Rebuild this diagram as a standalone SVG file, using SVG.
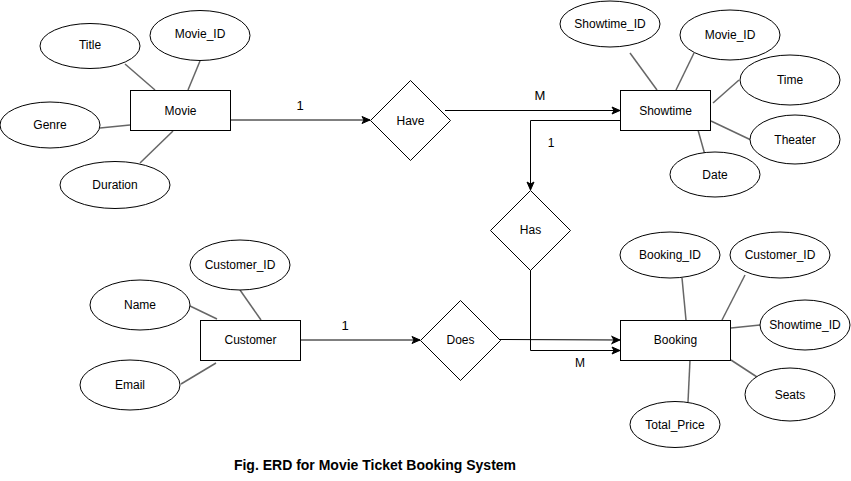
<svg xmlns="http://www.w3.org/2000/svg" width="851" height="481" viewBox="0 0 851 481">
<style>
.shape{fill:#fff;stroke:#000;stroke-width:1}
.attr{stroke:#666;stroke-width:1.5;fill:none}
.conn{stroke:#000;stroke-width:1;fill:none}
text{font-family:"Liberation Sans",Arial,sans-serif;font-size:12px;fill:#000;text-anchor:middle;dominant-baseline:central}
.cap{font-weight:bold;font-size:14px}
.lbl{font-size:13px}
</style>
<defs>
<marker id="arr" viewBox="0 0 10 10" refX="9" refY="5" markerWidth="10" markerHeight="10" markerUnits="userSpaceOnUse" orient="auto">
<path d="M1,1.5 L9,5 L1,8.5 L3,5 Z" fill="#000" stroke="#000" stroke-width="1"/>
</marker>
</defs>
<g id="attr-lines">
<line class="attr" x1="125" y1="64" x2="155" y2="90"/>
<line class="attr" x1="200" y1="61" x2="188" y2="90"/>
<line class="attr" x1="100" y1="128" x2="130" y2="125"/>
<line class="attr" x1="173" y1="131" x2="140" y2="163"/>
<line class="attr" x1="630" y1="53" x2="657" y2="90"/>
<line class="attr" x1="694" y1="53" x2="676" y2="90"/>
<line class="attr" x1="739" y1="80" x2="713" y2="103"/>
<line class="attr" x1="751" y1="140" x2="711" y2="121"/>
<line class="attr" x1="705" y1="155" x2="698" y2="130"/>
<line class="attr" x1="682" y1="278" x2="686" y2="320"/>
<line class="attr" x1="745" y1="275" x2="722" y2="320"/>
<line class="attr" x1="760" y1="325" x2="731" y2="328"/>
<line class="attr" x1="731" y1="360" x2="757" y2="377"/>
<line class="attr" x1="690" y1="360" x2="688" y2="402"/>
<line class="attr" x1="240" y1="290" x2="261" y2="320"/>
<line class="attr" x1="190" y1="306" x2="217" y2="319"/>
<line class="attr" x1="181" y1="384" x2="216" y2="363"/>
</g>
<g id="connectors">
<line class="conn" x1="231" y1="120" x2="370" y2="120" marker-end="url(#arr)"/>
<line class="conn" x1="445" y1="110.5" x2="620" y2="110.5" marker-end="url(#arr)"/>
<polyline class="conn" points="620,120.5 530.5,120.5 530.5,190" marker-end="url(#arr)"/>
<polyline class="conn" points="530.5,270 530.5,350.5 620,350.5" marker-end="url(#arr)"/>
<line class="conn" x1="500" y1="339.5" x2="620" y2="340" marker-end="url(#arr)"/>
<line class="conn" x1="301" y1="340" x2="420" y2="340" marker-end="url(#arr)"/>
<text class="lbl" x="300" y="105">1</text>
<text class="lbl" x="540" y="95">M</text>
<text x="551" y="143">1</text>
<text class="lbl" x="345" y="325">1</text>
<text x="580" y="363">M</text>
</g>
<g id="Movie"><rect class="shape" x="130.5" y="90.5" width="100" height="40"/><text x="180.5" y="110.5">Movie</text></g>
<g id="Title"><ellipse class="shape" cx="90" cy="46" rx="50" ry="22.5"/><text x="90" y="45">Title</text></g>
<g id="Movie_ID"><ellipse class="shape" cx="200" cy="35.5" rx="50" ry="25"/><text x="200" y="34">Movie_ID</text></g>
<g id="Genre"><ellipse class="shape" cx="50" cy="125" rx="50" ry="23"/><text x="50" y="125">Genre</text></g>
<g id="Duration"><ellipse class="shape" cx="115" cy="185" rx="55" ry="23.5"/><text x="115" y="185">Duration</text></g>
<g id="Have"><path class="shape" d="M410.5,80.5 L450.5,120.5 L410.5,160.5 L370.5,120.5 Z"/><text x="410.5" y="120.5">Have</text></g>
<g id="Showtime"><rect class="shape" x="620.5" y="90.5" width="90" height="40"/><text x="665.5" y="110.5">Showtime</text></g>
<g id="Showtime_ID_1"><ellipse class="shape" cx="610" cy="24" rx="50" ry="23"/><text x="610" y="24">Showtime_ID</text></g>
<g id="Movie_ID_2"><ellipse class="shape" cx="730" cy="35" rx="50" ry="25"/><text x="730" y="35">Movie_ID</text></g>
<g id="Time"><ellipse class="shape" cx="790" cy="80" rx="50" ry="25"/><text x="790" y="80">Time</text></g>
<g id="Theater"><ellipse class="shape" cx="795" cy="139.5" rx="45" ry="24.5"/><text x="795" y="139.5">Theater</text></g>
<g id="Date"><ellipse class="shape" cx="715" cy="174.5" rx="45" ry="22.5"/><text x="715" y="174.5">Date</text></g>
<g id="Has"><path class="shape" d="M530.5,190.5 L570.5,230.5 L530.5,270.5 L490.5,230.5 Z"/><text x="530.5" y="230">Has</text></g>
<g id="Does"><path class="shape" d="M460.5,300.5 L500.5,340.5 L460.5,380.5 L420.5,340.5 Z"/><text x="460.5" y="339.5">Does</text></g>
<g id="Booking"><rect class="shape" x="620.5" y="320.5" width="110" height="40"/><text x="675.5" y="340">Booking</text></g>
<g id="Booking_ID"><ellipse class="shape" cx="670" cy="255" rx="50" ry="23"/><text x="670" y="255">Booking_ID</text></g>
<g id="Customer_ID_2"><ellipse class="shape" cx="780" cy="255" rx="50" ry="23"/><text x="780" y="255">Customer_ID</text></g>
<g id="Showtime_ID_2"><ellipse class="shape" cx="805" cy="325" rx="45" ry="25"/><text x="805" y="325">Showtime_ID</text></g>
<g id="Seats"><ellipse class="shape" cx="790" cy="394.5" rx="45" ry="26.5"/><text x="790" y="394.5">Seats</text></g>
<g id="Total_Price"><ellipse class="shape" cx="675" cy="424.5" rx="45" ry="23"/><text x="675" y="424.5">Total_Price</text></g>
<g id="Customer"><rect class="shape" x="200.5" y="320.5" width="100" height="40"/><text x="250.5" y="340">Customer</text></g>
<g id="Customer_ID_1"><ellipse class="shape" cx="240" cy="265" rx="50" ry="25"/><text x="240" y="265">Customer_ID</text></g>
<g id="Name"><ellipse class="shape" cx="140" cy="305" rx="50" ry="25"/><text x="140" y="305">Name</text></g>
<g id="Email"><ellipse class="shape" cx="130" cy="385" rx="50" ry="25"/><text x="130" y="385">Email</text></g>
<text class="cap" x="375" y="465">Fig. ERD for Movie Ticket Booking System</text>
</svg>
